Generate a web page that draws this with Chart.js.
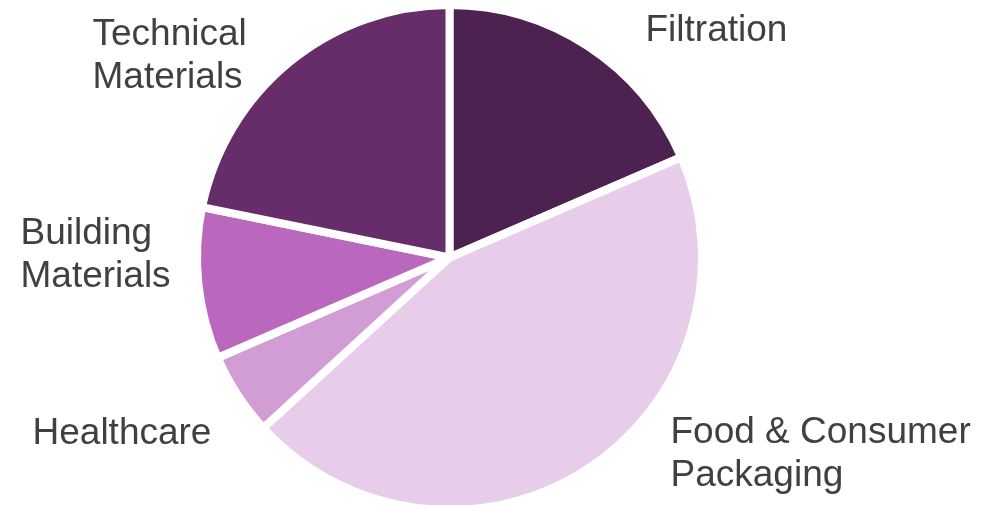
<!DOCTYPE html>
<html>
<head>
<meta charset="utf-8">
<script src="https://cdn.jsdelivr.net/npm/chart.js@4/dist/chart.umd.min.js"></script>
<style>
  html, body { margin: 0; padding: 0; background: #ffffff; overflow: hidden; }
  #wrap { width: 990px; height: 505px; overflow: hidden; }
  canvas { display: block; }
</style>
</head>
<body>
<div id="wrap"><canvas id="pie" width="990" height="515"></canvas></div>
<script>
// Segments, clockwise from 12 o'clock
const segments = ['Filtration', 'Food & Consumer Packaging', 'Healthcare', 'Building Materials', 'Technical Materials'];
const shares = [18.5, 44.7, 5.3, 9.7, 21.8];
const segmentLines = [
  ['Filtration'],
  ['Food & Consumer', 'Packaging'],
  ['Healthcare'],
  ['Building', 'Materials'],
  ['Technical', 'Materials']
];

const segmentColors = ['#4E2250', '#E7CDEA', '#D29CD4', '#BA68BD', '#672D6A'];

// Label anchors (left edge, first baseline) relative to the pie centre
const labelOffsets = [
  { dx: 196, dy: -217 },
  { dx: 221, dy: 185 },
  { dx: -417, dy: 186 },
  { dx: -429, dy: -14 },
  { dx: -357, dy: -213 }
];
const labelFont = '37px "Liberation Sans", Arial, sans-serif';
const lineGap = 43;

const outsideLabels = {
  id: 'outsideLabels',
  afterDraw(chart) {
    const arc = chart.getDatasetMeta(0).data[0];
    if (!arc) return;
    const { x, y } = arc.getProps(['x', 'y'], true);
    const ctx = chart.ctx;
    ctx.save();
    ctx.font = labelFont;
    ctx.fillStyle = '#404040';
    ctx.textAlign = 'left';
    ctx.textBaseline = 'alphabetic';
    segmentLines.forEach((lines, i) => {
      const o = labelOffsets[i];
      lines.forEach((t, j) => ctx.fillText(t, x + o.dx, y + o.dy + j * lineGap));
    });
    ctx.restore();
  }
};

new Chart(document.getElementById('pie'), {
  type: 'pie',
  data: {
    labels: segments,
    datasets: [{
      data: shares,
      backgroundColor: segmentColors,
      borderColor: '#ffffff',
      borderWidth: 8,
      radius: 252.5
    }]
  },
  options: {
    responsive: false,
    animation: false,
    layout: { padding: { left: 0, right: 91, top: 0, bottom: 0 } },
    plugins: {
      legend: { display: false },
      tooltip: { enabled: false }
    }
  },
  plugins: [outsideLabels]
});
</script>
</body>
</html>
